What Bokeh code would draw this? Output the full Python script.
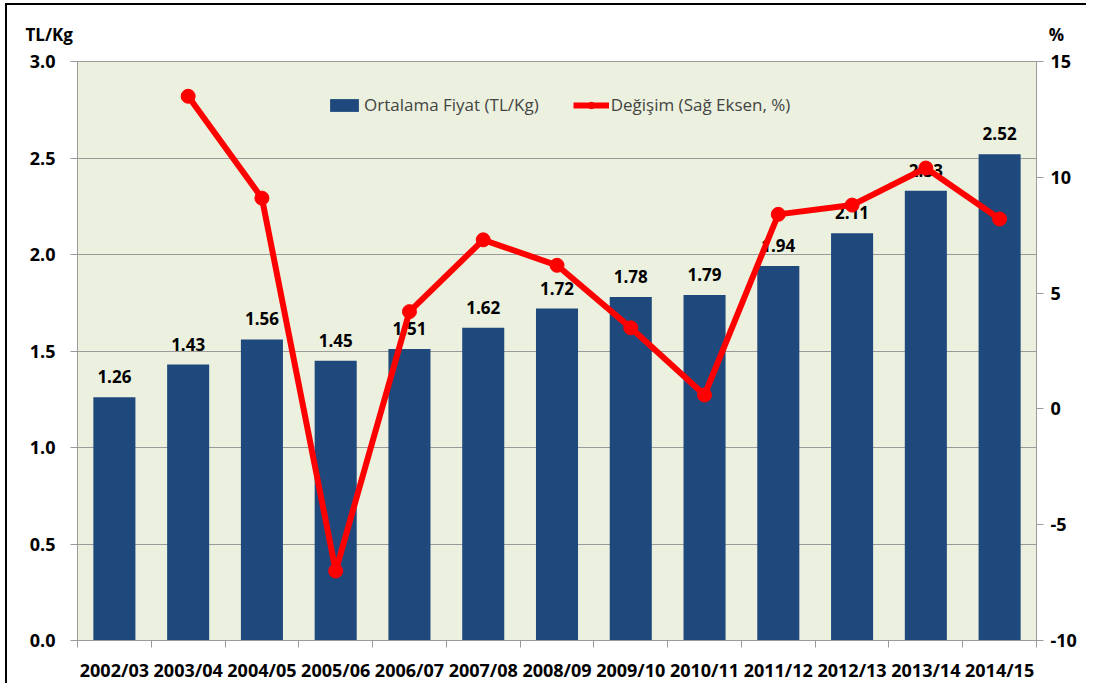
from bokeh.plotting import figure
from bokeh.models import (Range1d, LinearAxis, FixedTicker, NumeralTickFormatter,
                          Legend, LegendItem, ColumnDataSource, Title)
from bokeh.embed import file_html
from bokeh.resources import INLINE
from bokeh.core.properties import value

categories = ["2002/03", "2003/04", "2004/05", "2005/06", "2006/07", "2007/08", "2008/09",
              "2009/10", "2010/11", "2011/12", "2012/13", "2013/14", "2014/15"]
price = [1.26, 1.43, 1.56, 1.45, 1.51, 1.62, 1.72, 1.78, 1.79, 1.94, 2.11, 2.33, 2.52]
price_labels = ["1.26", "1.43", "1.56", "1.45", "1.51", "1.62", "1.72", "1.78", "1.79",
                "1.94", "2.11", "2.33", "2.52"]
change_categories = categories[1:]
change_pct = [13.5, 9.1, -7.0, 4.2, 7.3, 6.2, 3.5, 0.6, 8.4, 8.8, 10.4, 8.2]
left_ticks = [0.0, 0.5, 1.0, 1.5, 2.0, 2.5, 3.0]
right_ticks = [-10, -5, 0, 5, 10, 15]
left_unit = "TL/Kg"
right_unit = "%"

FONT = "Open Sans"
BAR = "#1F497D"
RED = "#FF0000"
GRID = "#9A9A9A"

n = len(categories)
xpos = [i + 0.5 for i in range(n)]
bars = ColumnDataSource(dict(x=xpos, price=price, lab=price_labels))
line_src = ColumnDataSource(dict(x=[categories.index(c) + 0.5 for c in change_categories],
                                 pct=change_pct))

p = figure(width=1081, height=680, output_backend="svg", toolbar_location=None,
           x_range=Range1d(0, n), y_range=Range1d(0, 3.0),
           min_border_left=70, min_border_right=52, min_border_top=55, min_border_bottom=45)
p.extra_y_ranges = {"pct": Range1d(-10, 15)}
p.background_fill_color = "#EBF1DE"
p.border_fill_color = "white"
p.outline_line_color = GRID
p.styles = {"border-left": "2px solid black", "border-top": "2px solid black",
            "margin-left": "5px", "margin-top": "3px"}

# unit captions above both axes (one title line; annotations would be clipped to the frame)
p.title = Title(text=left_unit + "\u00a0" * 221 + right_unit, align="left", offset=-52,
                standoff=31, text_font=FONT, text_font_style="bold",
                text_font_size="17px", text_color="black")

# x axis
xa = p.xaxis[0]
xa.ticker = FixedTicker(ticks=xpos, minor_ticks=list(range(n + 1)))
xa.major_label_overrides = {x: c for x, c in zip(xpos, categories)}
xa.major_tick_line_color = None
xa.minor_tick_line_color = GRID
xa.minor_tick_in = 0
xa.minor_tick_out = 7
xa.axis_line_color = GRID
xa.major_label_standoff = 10
xa.major_label_text_font = FONT
xa.major_label_text_font_style = "bold"
xa.major_label_text_font_size = "18px"
xa.major_label_text_color = "black"

# left axis
ya = p.yaxis[0]
ya.ticker = FixedTicker(ticks=left_ticks)
ya.formatter = NumeralTickFormatter(format="0.0")
ya.major_tick_in = 0
ya.major_tick_out = 7
ya.major_tick_line_color = GRID
ya.minor_tick_line_color = None
ya.axis_line_color = GRID
ya.major_label_standoff = 15
ya.major_label_text_font = FONT
ya.major_label_text_font_style = "bold"
ya.major_label_text_font_size = "18px"
ya.major_label_text_color = "black"

# right axis
ra = LinearAxis(y_range_name="pct", ticker=FixedTicker(ticks=right_ticks),
                formatter=NumeralTickFormatter(format="0"))
ra.major_tick_in = 0
ra.major_tick_out = 7
ra.major_tick_line_color = GRID
ra.minor_tick_line_color = None
ra.axis_line_color = GRID
ra.major_label_standoff = 7
ra.major_label_text_font = FONT
ra.major_label_text_font_style = "bold"
ra.major_label_text_font_size = "18px"
ra.major_label_text_color = "black"
p.add_layout(ra, "right")

p.xgrid.visible = False
p.ygrid.ticker = FixedTicker(ticks=left_ticks)
p.ygrid.grid_line_color = GRID
p.ygrid.grid_line_width = 1

vb = p.vbar(x="x", top="price", width=0.57, source=bars, fill_color=BAR, line_color=None)
p.text(x="x", y="price", text="lab", source=bars, text_align="center",
       text_baseline="bottom", y_offset=-14, text_font=value(FONT),
       text_font_style="bold", text_font_size="17px", text_color="black")

ln = p.line(x="x", y="pct", source=line_src, y_range_name="pct", line_color=RED, line_width=6)
sc = p.scatter(x="x", y="pct", source=line_src, y_range_name="pct", size=14,
               fill_color=RED, line_color=RED)

legend = Legend(items=[LegendItem(label="Ortalama Fiyat (TL/Kg)", renderers=[vb]),
                       LegendItem(label="Değişim (Sağ Eksen, %)", renderers=[ln, sc])],
                location=(249, 524), orientation="horizontal",
                background_fill_alpha=0, border_line_color=None,
                label_text_font=FONT, label_text_font_size="17px",
                glyph_width=36, glyph_height=16, label_standoff=2, spacing=34, padding=8)
p.add_layout(legend, "center")

open("out.html", "w").write(file_html(p, INLINE))
